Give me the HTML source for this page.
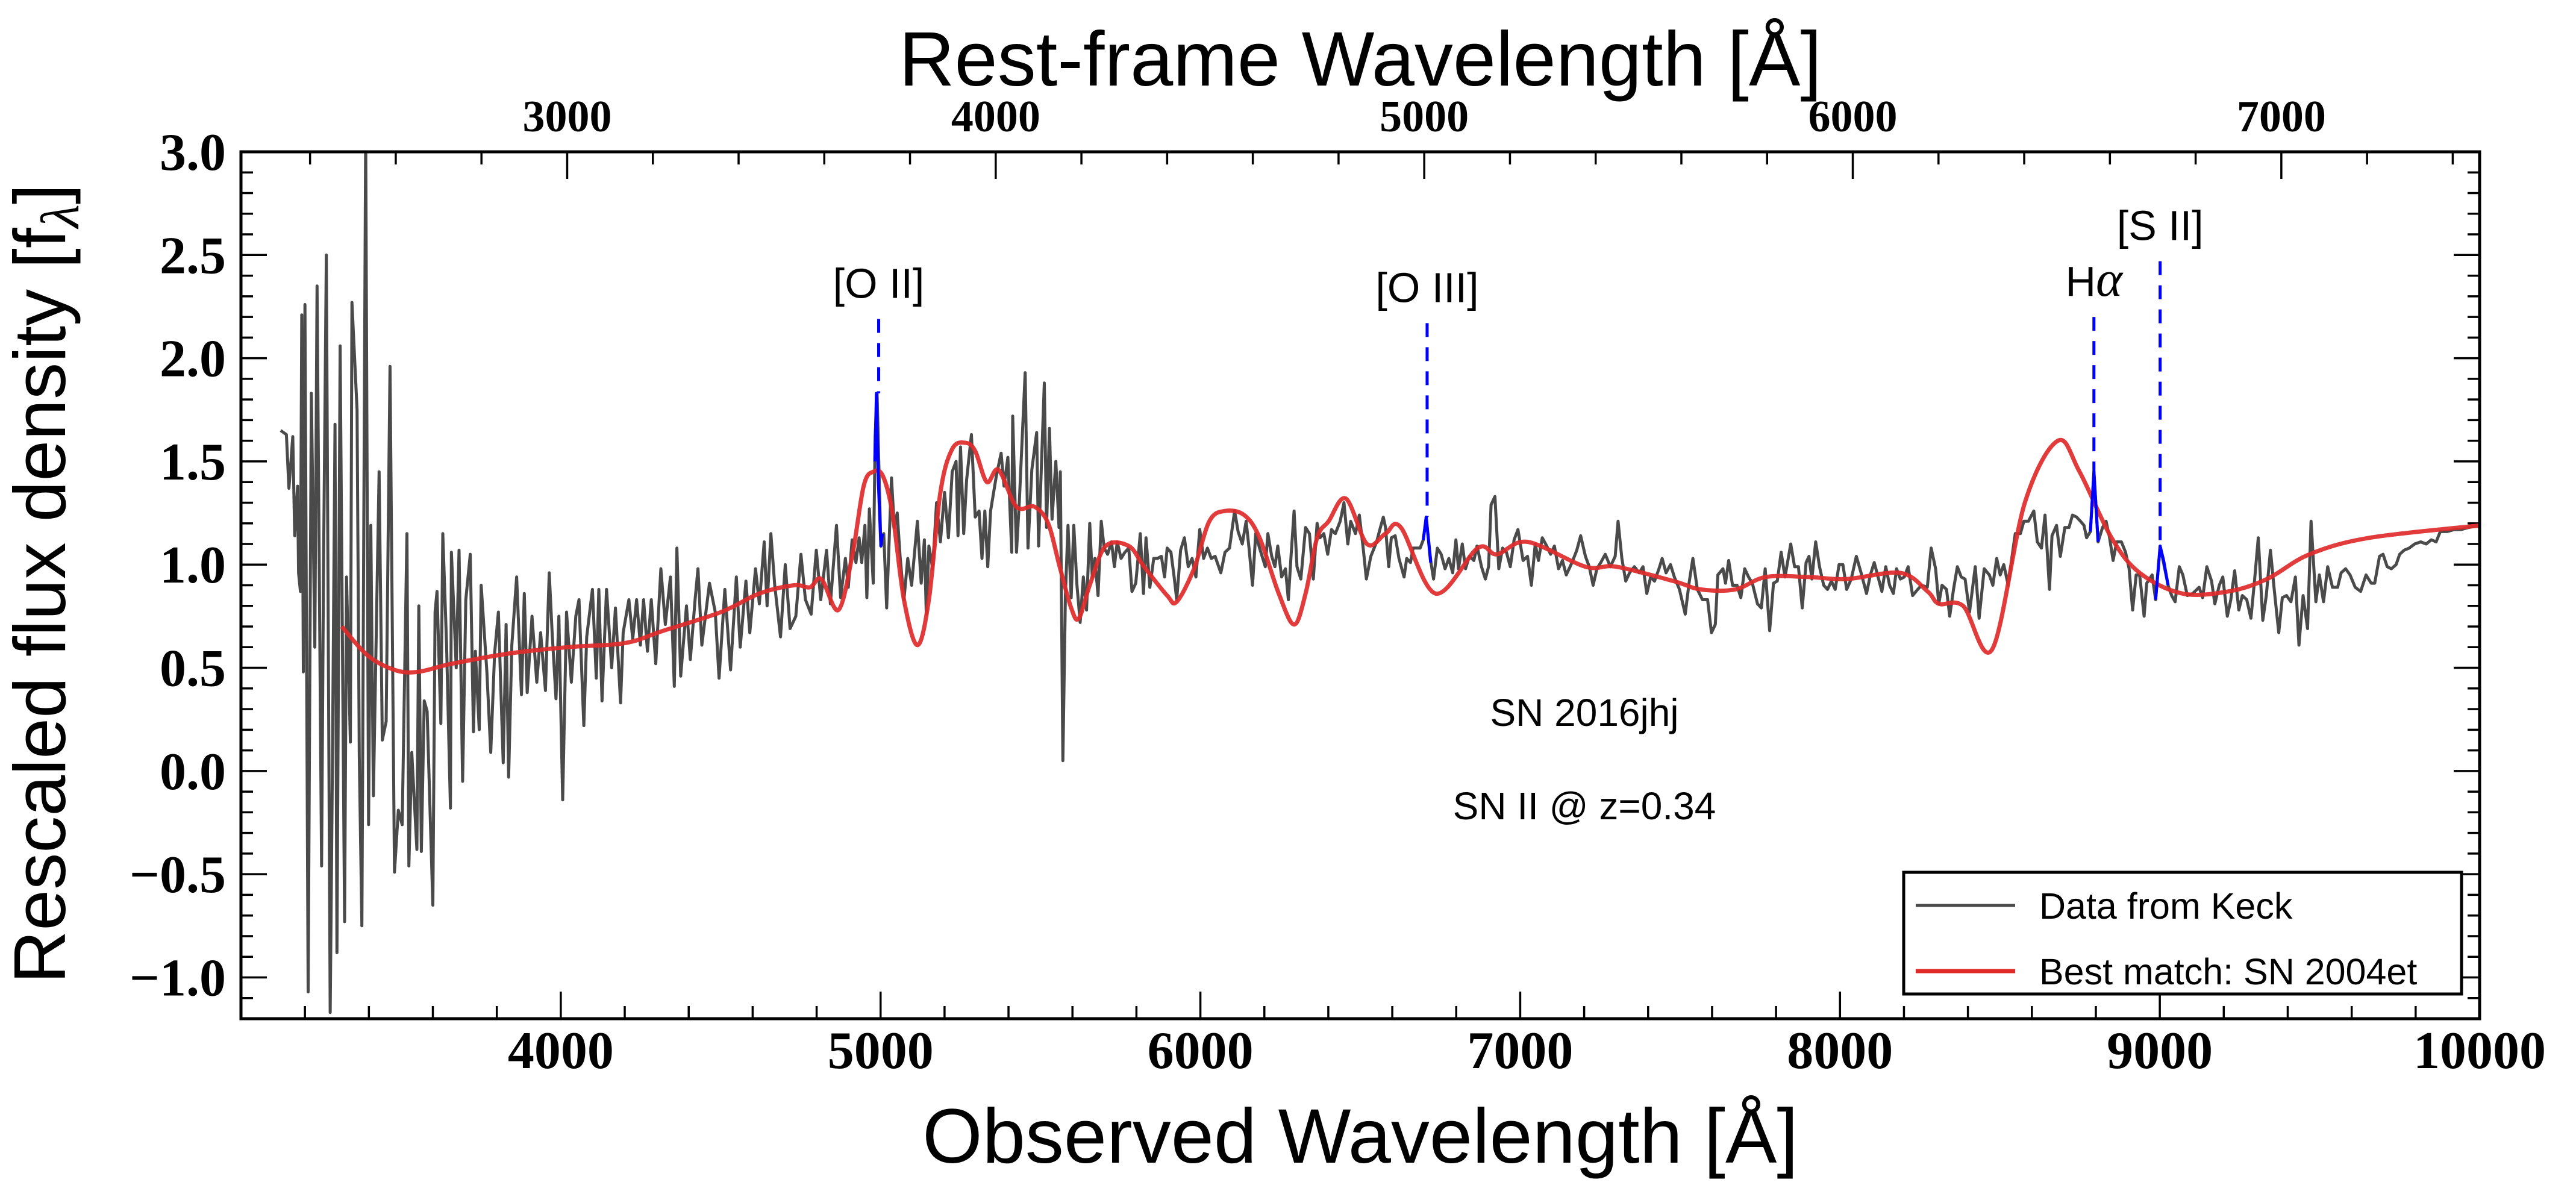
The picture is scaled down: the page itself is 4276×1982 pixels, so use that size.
<!DOCTYPE html>
<html><head><meta charset="utf-8">
<style>
html,body{margin:0;padding:0;background:#fff;}
svg{display:block;}
.tick{font-family:"Liberation Serif",serif;font-weight:bold;fill:#000;}
.sans{font-family:"Liberation Sans",sans-serif;fill:#000;}
</style></head>
<body>
<svg id="chart" width="4276" height="1982" viewBox="0 0 4276 1982" xmlns="http://www.w3.org/2000/svg">
<defs><clipPath id="plotclip"><rect x="400" y="252" width="3716" height="1439"/></clipPath></defs>
<rect x="0" y="0" width="4276" height="1982" fill="#fff"/>
<g id="ticks"></g>
<g id="series" clip-path="url(#plotclip)"></g>
<g id="annot"></g>
<rect x="400" y="252" width="3716" height="1439" fill="none" stroke="#000" stroke-width="5"/>
<text class="sans" x="2258" y="142" font-size="128" text-anchor="middle">Rest-frame Wavelength [Å]</text>
<text class="sans" x="2258" y="1930" font-size="128" text-anchor="middle">Observed Wavelength [Å]</text>
<text class="sans" font-size="122" text-anchor="middle" transform="translate(108,969) rotate(-90)">Rescaled flux density [f<tspan font-family="Liberation Serif" font-style="italic" font-size="90" dy="22">λ</tspan><tspan dy="-22">]</tspan></text>
<text class="sans" x="2630" y="1205" font-size="64" text-anchor="middle">SN 2016jhj</text>
<text class="sans" x="2630" y="1360" font-size="64" text-anchor="middle">SN II @ z=0.34</text>
<g>
<rect x="3160" y="1448" width="926" height="202" fill="#fff" stroke="#000" stroke-width="5"/>
<line x1="3180" y1="1503" x2="3345" y2="1503" stroke="#4a4a4a" stroke-width="5"/>
<text class="sans" x="3385" y="1525" font-size="61">Data from Keck</text>
<line x1="3180" y1="1612" x2="3345" y2="1612" stroke="#e02a2a" stroke-width="7"/>
<text class="sans" x="3385" y="1634" font-size="61">Best match: SN 2004et</text>
</g>
</svg>
<script>
const dataWave=[3124,3142,3150,3162,3168,3177,3180,3186,3190,3195,3200,3210,3220,3231,3238,3252,3258,3267,3279,3286,3294,3300,3310,3324,3330,3342,3347,3363,3370,3378,3390,3399,3406,3414,3432,3442,3454,3466,3480,3492,3504,3519,3525,3534,3550,3556,3564,3573,3582,3600,3607,3613,3625,3631,3643,3655,3658,3673,3682,3693,3703,3717,3727,3733,3745,3751,3769,3781,3793,3805,3820,3829,3837,3847,3862,3877,3886,3895,3910,3925,3937,3952,3964,3973,3985,3994,4006,4018,4033,4047,4057,4072,4081,4099,4111,4119,4129,4143,4159,4171,4187,4195,4213,4225,4237,4249,4259,4271,4283,4297,4313,4327,4343,4355,4363,4375,4393,4405,4420,4429,4441,4465,4483,4495,4513,4531,4549,4561,4579,4591,4609,4621,4636,4645,4657,4669,4687,4702,4717,4735,4751,4765,4783,4799,4813,4831,4843,4862,4875,4890,4899,4911,4923,4933,4941,4951,4957,4965,4977,4983,4989,5001,5010,5019,5034,5043,5052,5061,5073,5085,5097,5115,5127,5137,5143,5151,5163,5175,5187,5200,5212,5224,5236,5242,5250,5260,5269,5284,5296,5308,5317,5326,5335,5344,5362,5377,5386,5398,5410,5413,5425,5434,5452,5461,5473,5488,5494,5512,5519,5528,5536,5548,5558,5562,5570,5578,5586,5596,5604,5614,5624,5634,5644,5654,5662,5670,5680,5690,5699,5710,5722,5731,5740,5752,5764,5776,5786,5798,5812,5822,5830,5842,5854,5866,5878,5888,5896,5908,5918,5926,5938,5950,5962,5974,5986,5998,6010,6022,6034,6046,6064,6077,6091,6107,6118,6131,6143,6152,6163,6173,6185,6203,6211,6223,6233,6242,6254,6266,6275,6283,6293,6302,6314,6329,6341,6353,6365,6374,6386,6398,6410,6422,6437,6449,6461,6470,6485,6497,6509,6519,6533,6551,6563,6572,6579,6589,6597,6609,6621,6637,6645,6657,6665,6675,6687,6697,6706,6721,6729,6741,6753,6765,6777,6789,6799,6807,6819,6829,6841,6855,6865,6879,6891,6901,6909,6921,6933,6945,6957,6969,6981,6993,7009,7023,7035,7047,7057,7069,7083,7095,7107,7120,7132,7144,7162,7177,7189,7204,7216,7228,7240,7252,7266,7282,7297,7306,7318,7330,7342,7357,7372,7384,7396,7408,7420,7434,7444,7456,7470,7482,7498,7516,7528,7540,7554,7570,7586,7598,7610,7618,7634,7642,7652,7664,7678,7690,7702,7714,7726,7742,7754,7766,7780,7792,7804,7816,7828,7846,7858,7870,7882,7894,7903,7912,7924,7936,7949,7961,7973,7985,7997,8009,8021,8035,8051,8066,8083,8095,8107,8119,8131,8143,8155,8167,8177,8189,8201,8213,8227,8243,8255,8273,8285,8299,8309,8319,8333,8343,8355,8367,8379,8391,8405,8423,8435,8451,8467,8478,8490,8501,8512,8526,8537,8548,8564,8575,8589,8606,8617,8630,8641,8655,8663,8677,8689,8703,8716,8727,8740,8752,8763,8771,8783,8794,8807,8821,8832,8843,8854,8865,8880,8893,8904,8915,8926,8937,8951,8959,8976,8987,9001,9026,9037,9048,9061,9072,9086,9103,9123,9134,9147,9162,9172,9186,9197,9211,9222,9234,9247,9258,9272,9285,9296,9308,9322,9333,9346,9357,9372,9383,9396,9410,9424,9435,9448,9462,9473,9488,9499,9512,9525,9540,9556,9567,9581,9595,9611,9628,9645,9661,9672,9687,9698,9711,9724,9739,9750,9764,9780,9797,9816,9833,9849,9864,9877,9899,9921,9943,9965,10004];
const dataFlux=[1.65,1.63,1.37,1.62,1.14,1.38,0.96,0.87,2.21,0.48,2.26,-1.07,1.83,0.60,2.35,-0.46,0.98,2.50,-1.17,0.03,1.68,-0.88,2.06,-0.73,0.94,0.14,2.27,1.75,0.07,-0.75,3.1,-0.26,1.19,-0.12,1.45,0.15,0.24,1.96,-0.49,-0.19,-0.26,1.15,-0.46,0.09,-0.38,0.80,-0.39,0.34,0.29,-0.65,0.77,0.87,0.23,1.15,0.61,-0.18,1.06,0.50,1.07,-0.05,0.83,1.05,0.19,0.58,0.20,0.90,0.48,0.09,0.57,0.77,0.04,0.71,-0.03,0.61,0.94,0.37,0.86,0.38,0.75,0.43,0.67,0.39,0.96,0.67,0.35,0.75,-0.14,0.77,0.43,0.75,0.83,0.22,0.65,0.88,0.45,0.88,0.34,0.88,0.50,0.79,0.33,0.67,0.83,0.64,0.83,0.61,0.83,0.58,0.83,0.52,0.98,0.71,0.94,0.41,1.08,0.46,0.80,0.54,0.83,0.98,0.61,0.91,0.77,0.45,0.88,0.49,0.94,0.60,0.92,0.67,0.98,0.81,1.11,0.80,1.15,0.90,0.65,1.00,0.69,0.75,1.05,0.83,0.76,1.07,0.83,1.07,0.81,1.19,0.84,1.03,0.89,1.12,1.01,1.13,1.01,1.19,0.84,1.27,0.91,1.62,1.83,1.09,1.15,0.79,1.42,1.18,1.25,1.04,0.83,1.03,0.90,1.21,0.91,1.12,0.76,1.09,0.98,1.30,1.11,1.35,1.13,1.45,1.50,1.14,1.57,1.15,1.41,1.63,1.23,1.26,1.03,1.26,0.99,1.26,1.43,1.54,1.38,1.52,1.06,1.72,1.06,1.31,1.93,1.08,1.46,1.64,1.09,1.88,1.18,1.66,1.22,1.50,1.18,1.45,0.05,0.85,1.19,0.84,1.19,0.90,0.72,0.94,0.78,1.20,0.94,1.03,0.85,1.21,1.08,1.05,1.11,0.99,1.11,1.03,1.06,1.08,0.87,0.91,1.15,0.86,1.13,0.89,1.03,1.03,1.04,0.94,1.08,1.06,0.94,0.83,1.07,1.13,0.99,1.03,0.94,1.17,1.03,1.08,1.03,1.04,0.96,1.06,1.08,1.26,1.16,1.10,1.21,1.08,0.90,1.15,1.08,0.99,1.15,1.04,0.99,1.09,0.94,0.98,0.83,1.03,1.26,0.99,0.93,1.18,1.15,0.93,1.20,1.13,1.15,1.05,1.17,1.15,1.21,1.30,1.10,1.21,1.15,1.24,1.08,0.93,1.04,1.11,1.18,1.23,1.18,0.99,1.13,1.14,1.03,0.94,1.03,1.01,1.08,1.08,1.08,1.12,1.23,1.01,0.93,1.08,1.05,0.98,1.03,0.96,1.12,0.98,1.10,0.98,1.04,1.02,1.09,0.99,0.93,0.99,1.29,1.33,0.98,1.08,1.06,0.99,1.12,1.17,1.02,1.04,0.90,1.10,1.02,1.13,1.09,1.05,1.09,0.98,1.02,0.95,1.01,1.07,1.14,1.04,0.99,0.90,0.98,1.01,1.05,0.99,1.04,1.21,1.03,0.92,0.96,0.99,0.96,0.99,0.86,0.94,0.92,0.98,1.03,0.96,1.00,0.94,0.88,0.76,0.91,1.03,0.88,0.83,0.83,0.67,0.71,0.95,0.98,0.91,1.02,0.90,0.90,0.84,0.98,0.94,0.91,0.81,0.79,0.98,0.68,0.91,0.92,1.06,0.94,1.10,0.99,0.99,0.79,1.01,1.04,0.93,1.11,0.99,0.90,0.88,0.92,0.88,1.00,1.00,0.88,0.93,1.04,0.96,0.86,0.95,1.01,0.94,0.87,0.99,0.90,0.86,0.98,0.93,0.94,0.99,0.85,0.88,0.90,0.89,1.08,0.98,0.81,0.90,0.88,0.75,0.88,0.99,0.94,0.93,0.77,0.99,0.74,0.98,0.95,0.90,1.03,0.95,1.00,0.90,1.03,1.15,1.15,1.21,1.21,1.26,1.11,1.08,1.24,0.88,1.14,1.19,1.04,1.18,1.18,1.24,1.23,1.21,1.19,1.13,1.16,1.45,1.11,1.18,1.21,1.13,1.02,1.11,1.11,1.06,0.98,0.78,0.95,0.95,0.75,0.91,0.95,0.83,1.09,0.90,0.85,0.82,0.99,0.95,0.85,0.86,0.89,0.84,0.99,0.92,0.81,0.90,0.94,0.75,0.83,0.97,0.78,0.85,0.83,0.74,0.92,1.13,0.73,0.85,1.07,0.89,0.67,0.84,0.85,0.82,0.94,0.61,0.85,0.69,1.21,0.82,0.95,0.82,0.99,0.89,0.89,0.96,0.98,0.95,0.89,0.87,0.95,0.91,0.91,1.04,1.05,0.99,0.98,1.00,1.05,1.07,1.08,1.10,1.11,1.10,1.12,1.11,1.16,1.16,1.17,1.17,1.18,1.19];
const modelWave=[3315,3396,3480,3552,3660,3841,4021,4201,4321,4501,4621,4729,4779,4815,4868,4911,4947,4977,5007,5037,5073,5115,5151,5187,5224,5266,5296,5332,5368,5416,5440,5482,5524,5560,5596,5620,5656,5704,5776,5824,5896,5926,5980,6028,6077,6137,6185,6245,6293,6329,6365,6401,6455,6521,6579,6627,6735,6867,6927,7023,7204,7300,7480,7564,7672,7768,7900,8021,8189,8274,8309,8385,8476,8578,8681,8749,8849,8937,9070,9214,9335,9468,9656,10004];
const modelFlux=[0.70,0.56,0.49,0.48,0.52,0.57,0.60,0.62,0.68,0.77,0.86,0.90,0.89,0.93,0.78,1.04,1.38,1.45,1.43,1.25,0.83,0.61,0.83,1.35,1.56,1.59,1.55,1.40,1.46,1.30,1.27,1.28,1.20,0.99,0.79,0.74,0.91,1.09,1.09,0.99,0.85,0.82,0.98,1.21,1.26,1.24,1.13,0.86,0.71,0.86,1.13,1.21,1.32,1.10,1.15,1.18,0.86,1.08,1.05,1.11,0.99,0.99,0.92,0.88,0.88,0.94,0.94,0.93,0.96,0.87,0.81,0.80,0.59,1.30,1.60,1.45,1.13,0.96,0.86,0.87,0.93,1.05,1.13,1.19];
const lineNames=["[O II]","[O III]","H","[S II]"];
const lineWave=[4994,6709,8794,9001];
const lineTop=[2.19,2.17,2.20,2.47];
const lineBottom=[1.83,1.23,1.45,1.09];
const emisWave=[[4982,4987,4993,5001,5006],[6697,6706,6720],[8783,8794,8807],[8987,9001,9012,9026]];
const emisFlux=[[1.50,1.83,1.40,1.09,1.15],[1.12,1.23,1.01],[1.16,1.45,1.11],[0.83,1.09,1.02,0.90]];
const xTicks=[4000,5000,6000,7000,8000,9000,10000];
const restTicks=[3000,4000,5000,6000,7000];
const yTicks=[-1.0,-0.5,0.0,0.5,1.0,1.5,2.0,2.5,3.0];
const redshift=0.34;

const NS="http://www.w3.org/2000/svg";
const X0=400,X1=4116,Y0=252,Y1=1691,WMIN=3000,WMAX=10000,FMIN=-1.2,FMAX=3.0;
function xs(w){return X0+(w-WMIN)*(X1-X0)/(WMAX-WMIN);}
function ys(f){return Y1-(f-FMIN)*(Y1-Y0)/(FMAX-FMIN);}
function mk(tag,attrs,parent){const e=document.createElementNS(NS,tag);for(const k in attrs)e.setAttribute(k,attrs[k]);parent.appendChild(e);return e;}
function pts(ws,fs){return ws.map((w,i)=>xs(w).toFixed(1)+","+ys(fs[i]).toFixed(1)).join(" ");}
function smooth(ws,fs){
  const P=ws.map((w,i)=>[xs(w),ys(fs[i])]);
  let d="M"+P[0][0].toFixed(1)+","+P[0][1].toFixed(1);
  for(let i=0;i<P.length-1;i++){
    const p0=P[Math.max(0,i-1)],p1=P[i],p2=P[i+1],p3=P[Math.min(P.length-1,i+2)];
    const c1=[p1[0]+(p2[0]-p0[0])/6,p1[1]+(p2[1]-p0[1])/6];
    const c2=[p2[0]-(p3[0]-p1[0])/6,p2[1]-(p3[1]-p1[1])/6];
    d+=" C"+c1[0].toFixed(1)+","+c1[1].toFixed(1)+" "+c2[0].toFixed(1)+","+c2[1].toFixed(1)+" "+p2[0].toFixed(1)+","+p2[1].toFixed(1);
  }
  return d;
}

const series=document.getElementById("series");
const dl=mk("polyline",{points:pts(dataWave,dataFlux),fill:"none",stroke:"#4a4a4a","stroke-width":5,"stroke-linejoin":"round"},series);


const ml=mk("path",{d:smooth(modelWave,modelFlux),fill:"none",stroke:"#e02a2a","stroke-opacity":0.92,"stroke-width":7,"stroke-linejoin":"round"},series);


for(let i=0;i<emisWave.length;i++){
  const b=mk("polyline",{points:pts(emisWave[i],emisFlux[i]),fill:"none",stroke:"#0000ff","stroke-width":5,"stroke-linejoin":"round"},series);
  
  
}
const annot=document.getElementById("annot");
for(let i=0;i<lineWave.length;i++){
  const x=xs(lineWave[i]);
  const d=mk("line",{x1:x,y1:ys(lineTop[i]),x2:x,y2:ys(lineBottom[i]),stroke:"#0000ff","stroke-width":5,"stroke-dasharray":"23 17"},annot);
  
  
  const t=mk("text",{x:x,y:ys(lineTop[i])-35,"font-size":70,"text-anchor":"middle",class:"sans"},annot);
  t.textContent=lineNames[i];
  if(lineNames[i]==="H"){const a=mk("tspan",{"font-family":"Liberation Serif","font-style":"italic","font-size":84},t);a.textContent="α";}
  
  
}
const tk=document.getElementById("ticks");
function tickLine(x1,y1,x2,y2){const l=mk("line",{x1:x1,y1:y1,x2:x2,y2:y2,stroke:"#000","stroke-width":3.5},tk);}
for(let w=3200;w<=10000;w+=200){const x=xs(w);const major=(w%1000===0);tickLine(x,Y1,x,Y1-(major?45:21));}
xTicks.forEach(w=>{const t=mk("text",{x:xs(w),y:1773,"font-size":88,"text-anchor":"middle",class:"tick"},tk);t.textContent=String(w);});
for(let r=2400;r<=7400;r+=200){const x=xs(r*(1+redshift));if(x<X0||x>X1)continue;const major=(r%1000===0);tickLine(x,Y0,x,Y0+(major?45:21));}
restTicks.forEach(r=>{const t=mk("text",{x:xs(r*(1+redshift)),y:218,"font-size":74,"text-anchor":"middle",class:"tick"},tk);t.textContent=String(r);});
for(let k=-12;k<=30;k++){const f=k/10;const y=ys(f);const major=(k%5===0);const L=major?43:20;tickLine(X0,y,X0+L,y);tickLine(X1,y,X1-L,y);}
yTicks.forEach(f=>{const t=mk("text",{x:375,y:ys(f)+30,"font-size":88,"text-anchor":"end",class:"tick"},tk);t.textContent=(f<0?"\u2212":"")+Math.abs(f).toFixed(1);});
</script>
</body></html>
